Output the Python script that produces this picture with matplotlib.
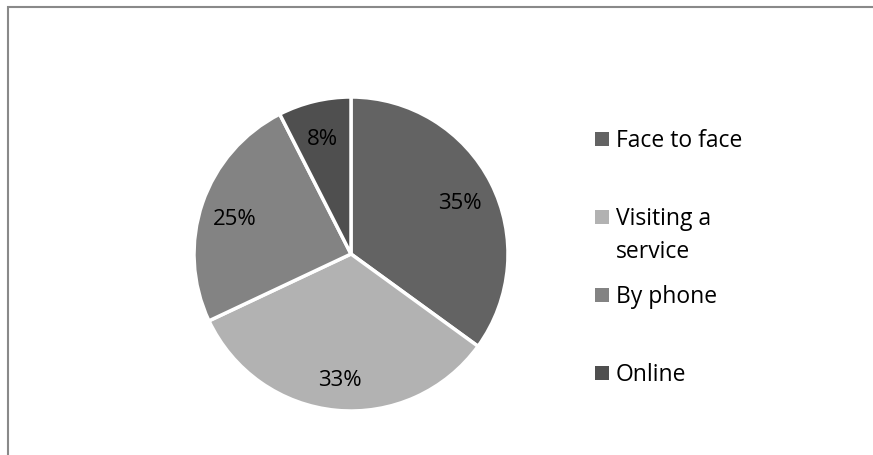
import matplotlib
matplotlib.use("Agg")
import matplotlib.pyplot as plt
import matplotlib.patches as mpatches
import numpy as np

# data (shares)
categories = ["Face to face", "Visiting a\nservice", "By phone", "Online"]
shares = [35.0, 33.0, 24.5, 7.5]
pct_labels = ["35%", "33%", "25%", "8%"]
colors = ["#636363", "#b2b2b2", "#838383", "#4f4f4f"]

plt.rcParams["font.family"] = ["Open Sans", "DejaVu Sans"]

W, H = 873, 456
fig = plt.figure(figsize=(W / 100, H / 100), dpi=100)

# chart-area border (only top/left visible in the crop)
fig.add_artist(mpatches.Rectangle((7.5 / W, -0.1), 1.2, (H - 7.5) / H + 0.1,
                                  transform=fig.transFigure, fill=False,
                                  edgecolor="#898989", lw=1.5))

# pie centred at ~(351, 255) px, radius ~157 px
cx, cy, r = 351, 255, 157
ax = fig.add_axes([(cx - r) / W, (H - cy - r) / H, 2 * r / W, 2 * r / H])
wedges, texts = ax.pie(shares, colors=colors, startangle=90, counterclock=False,
                       wedgeprops=dict(edgecolor="white", linewidth=2.5))
for w, lab in zip(wedges, pct_labels):
    ang = np.deg2rad((w.theta1 + w.theta2) / 2)
    ax.text(0.78 * np.cos(ang), 0.78 * np.sin(ang) - 0.025, lab,
            ha="center", va="center", fontsize=16, color="black")
ax.set_xlim(-1, 1)
ax.set_ylim(-1, 1)
ax.set_aspect("equal")
ax.axis("off")

# legend laid out by hand (entries ~78 px apart, handle on first text line)
baselines = [147, 225, 303, 381]
for w, lab, yb in zip(wedges, categories, baselines):
    fig.add_artist(mpatches.Rectangle((595 / W, 1 - yb / H), 14 / W, 14 / H,
                                      transform=fig.transFigure,
                                      facecolor=w.get_facecolor(), edgecolor="none"))
    fig.text(616 / W, 1 - yb / H, lab.split("\n")[0], fontsize=16.5,
             ha="left", va="baseline")
    for k, extra in enumerate(lab.split("\n")[1:], start=1):
        fig.text(616 / W, 1 - (yb + 33 * k) / H, extra, fontsize=16.5,
                 ha="left", va="baseline")

fig.savefig("out.png", dpi=100)
